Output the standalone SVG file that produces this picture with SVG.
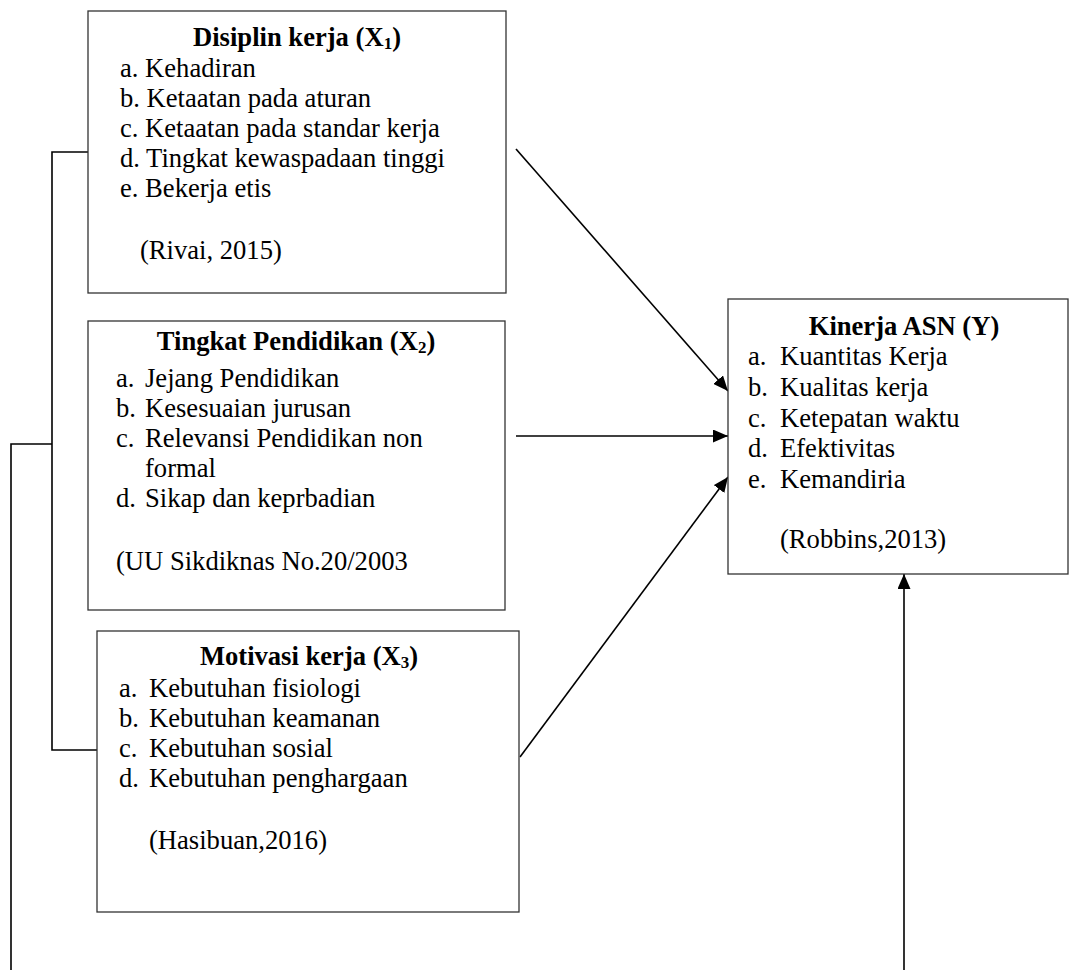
<svg xmlns="http://www.w3.org/2000/svg" width="1072" height="970" viewBox="0 0 1072 970">
<style>
.box{fill:#fff;stroke:#333;stroke-width:1.3}
.t{font-family:"Liberation Serif","Times New Roman",serif;font-size:26.6px;fill:#000}
.b{font-weight:bold;text-anchor:middle}
.sub{font-size:17px}
.ln{fill:none;stroke:#000;stroke-width:1.6}
</style>
<defs>
<marker id="ah" markerUnits="userSpaceOnUse" markerWidth="15" markerHeight="13" refX="15" refY="6.5" orient="auto">
<path d="M0,0 L15,6.5 L0,13 z" fill="#000"/>
</marker>
</defs>
<rect width="1072" height="970" fill="#fff"/>
<g id="connectors">
<polyline class="ln" points="88,152 52,152 52,750 97,750"/>
<polyline class="ln" points="52,444 11,444 11,970"/>
<line class="ln" x1="516" y1="149" x2="728" y2="391" marker-end="url(#ah)"/>
<line class="ln" x1="516" y1="436" x2="728" y2="436" marker-end="url(#ah)"/>
<line class="ln" x1="520" y1="757" x2="728" y2="477" marker-end="url(#ah)"/>
<line class="ln" x1="904" y1="970" x2="904" y2="574" marker-end="url(#ah)"/>
</g>
<g id="x1">
<rect class="box" x="88" y="11" width="418" height="282"/>
<text class="t b" x="297" y="46">Disiplin kerja (X<tspan class="sub" dy="3">1</tspan><tspan dy="-3">)</tspan></text>
<text class="t" x="120" y="77">a. Kehadiran</text>
<text class="t" x="120" y="107">b. Ketaatan pada aturan</text>
<text class="t" x="120" y="137">c. Ketaatan pada standar kerja</text>
<text class="t" x="120" y="167">d. Tingkat kewaspadaan tinggi</text>
<text class="t" x="120" y="197">e. Bekerja etis</text>
<text class="t" x="140" y="259">(Rivai, 2015)</text>
</g>
<g id="x2">
<rect class="box" x="88" y="321" width="417" height="289"/>
<text class="t b" x="296" y="350">Tingkat Pendidikan (X<tspan class="sub" dy="3">2</tspan><tspan dy="-3">)</tspan></text>
<text class="t" x="116" y="387">a.</text><text class="t" x="145" y="387">Jejang Pendidikan</text>
<text class="t" x="116" y="417">b.</text><text class="t" x="145" y="417">Kesesuaian jurusan</text>
<text class="t" x="116" y="447">c.</text><text class="t" x="145" y="447">Relevansi Pendidikan non</text>
<text class="t" x="145" y="477">formal</text>
<text class="t" x="116" y="507">d.</text><text class="t" x="145" y="507">Sikap dan keprbadian</text>
<text class="t" x="116" y="570">(UU Sikdiknas No.20/2003</text>
</g>
<g id="x3">
<rect class="box" x="97" y="631" width="422" height="281"/>
<text class="t b" x="309" y="665">Motivasi kerja (X<tspan class="sub" dy="3">3</tspan><tspan dy="-3">)</tspan></text>
<text class="t" x="119" y="697">a.</text><text class="t" x="149" y="697">Kebutuhan fisiologi</text>
<text class="t" x="119" y="727">b.</text><text class="t" x="149" y="727">Kebutuhan keamanan</text>
<text class="t" x="119" y="757">c.</text><text class="t" x="149" y="757">Kebutuhan sosial</text>
<text class="t" x="119" y="787">d.</text><text class="t" x="149" y="787">Kebutuhan penghargaan</text>
<text class="t" x="149" y="849">(Hasibuan,2016)</text>
</g>
<g id="y">
<rect class="box" x="728" y="299" width="340" height="275"/>
<text class="t b" x="904" y="335">Kinerja ASN (Y)</text>
<text class="t" x="748" y="365">a.</text><text class="t" x="780" y="365">Kuantitas Kerja</text>
<text class="t" x="748" y="396">b.</text><text class="t" x="780" y="396">Kualitas kerja</text>
<text class="t" x="748" y="427">c.</text><text class="t" x="780" y="427">Ketepatan waktu</text>
<text class="t" x="748" y="457">d.</text><text class="t" x="780" y="457">Efektivitas</text>
<text class="t" x="748" y="488">e.</text><text class="t" x="780" y="488">Kemandiria</text>
<text class="t" x="780" y="548">(Robbins,2013)</text>
</g>
</svg>
